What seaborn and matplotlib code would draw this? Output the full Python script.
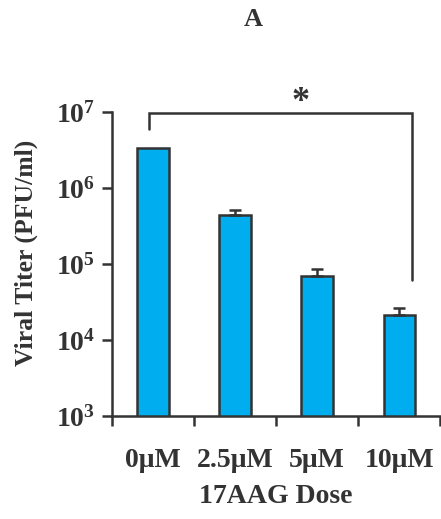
import matplotlib
matplotlib.use("Agg")
import matplotlib.pyplot as plt
import seaborn as sns
import numpy as np
import pandas as pd
from matplotlib.ticker import FixedLocator

doses = ["0\u03bcM", "2.5\u03bcM", "5\u03bcM", "10\u03bcM"]
titers = [3.4e6, 4.4e5, 7.0e4, 2.15e4]
err_upper = [0.0, 0.7e5, 1.7e4, 0.45e4]
y_ticks = [1e3, 1e4, 1e5, 1e6, 1e7]
y_tick_labels = [r"$\mathregular{10^{3}}$", r"$\mathregular{10^{4}}$",
                 r"$\mathregular{10^{5}}$", r"$\mathregular{10^{6}}$",
                 r"$\mathregular{10^{7}}$"]

sns.set_style("white")
plt.rcParams["font.family"] = ["Liberation Serif", "DejaVu Serif"]
plt.rcParams["mathtext.fontset"] = "custom"
plt.rcParams["mathtext.rm"] = "Liberation Serif:bold"

INK = "#333333"
BLUE = "#00AEEF"

df = pd.DataFrame({"dose": doses, "titer": titers})

fig = plt.figure(figsize=(4.41, 5.19), dpi=100)
ax = fig.add_axes([0.254, 0.1985, 0.744, 0.5855])

sns.barplot(data=df, x="dose", y="titer", color=BLUE, width=0.38,
            edgecolor=INK, linewidth=1.8, saturation=1, ax=ax, errorbar=None,
            log_scale=(False, True))
for p in ax.patches:
    p.set_facecolor(BLUE)

xs = np.arange(len(doses))
t_arr = np.array(titers)
e_arr = np.array(err_upper)
has_err = e_arr > 0
ax.errorbar(xs[has_err], t_arr[has_err],
            yerr=[np.zeros(has_err.sum()), e_arr[has_err]], fmt="none",
            ecolor=INK, elinewidth=1.8, capsize=4, capthick=1.8, zorder=1)

ax.set_yscale("log")
ax.set_ylim(1e3, 1e7)
ax.set_xlim(-0.5, 3.5)
ax.yaxis.set_major_locator(FixedLocator(y_ticks))
ax.set_yticklabels(y_tick_labels)
ax.yaxis.set_minor_locator(FixedLocator([]))
ax.set_xticks(xs)
ax.set_xticklabels(doses)
ax.set_xticks(np.arange(-0.5, 4.0, 1.0), minor=True)

for s in ["top", "right"]:
    ax.spines[s].set_visible(False)
for s in ["left", "bottom"]:
    ax.spines[s].set_color(INK)
    ax.spines[s].set_linewidth(1.8)

ax.tick_params(axis="y", which="major", direction="out", length=7, width=1.8,
               color=INK, labelsize=20, labelcolor=INK, pad=5, left=True)
ax.tick_params(axis="x", which="major", length=0, labelsize=20,
               labelcolor=INK, pad=23)
ax.tick_params(axis="x", which="minor", direction="out", length=7, width=1.8,
               color=INK, bottom=True)
for lbl in ax.get_xticklabels() + ax.get_yticklabels():
    lbl.set_fontweight("bold")

ax.set_xlabel("17AAG Dose", fontsize=20, fontweight="bold", color=INK, labelpad=8)
ax.set_ylabel("Viral Titer (PFU/ml)", fontsize=18.5, fontweight="bold", color=INK)
ax.yaxis.set_label_coords(-0.226, 0.536)

# significance bracket
xl, xr = xs[0] - 0.05, xs[-1] + 0.155
ax.plot([xl, xl, xr, xr], [6.0e6, 9.6e6, 9.6e6, 6.2e4], color=INK, lw=1.8,
        clip_on=False, solid_joinstyle="miter")
ax.text((xl + xr) / 2 + 0.25, 1.35e7, "*", ha="center", va="center",
        fontsize=26, fontweight="bold", color=INK)

fig.text(0.574, 0.962, "A", ha="center", va="center", fontsize=19,
         fontweight="bold", color=INK)

fig.savefig("out.png", dpi=100)
